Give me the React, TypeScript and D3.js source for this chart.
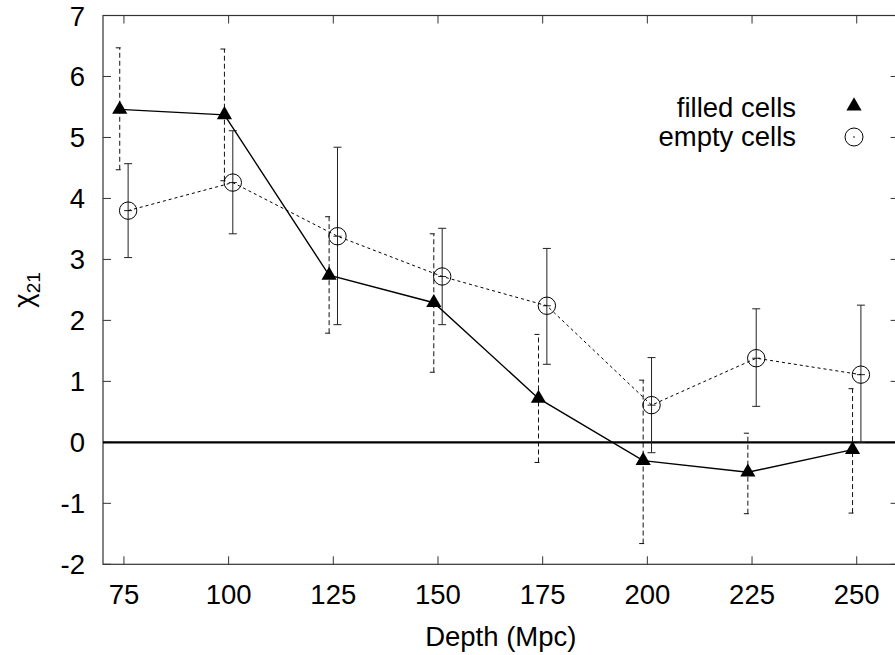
import React from "react";
import * as d3 from "d3";

const filledDepth = [74, 99, 124, 149, 174, 199, 224, 249];
const filledVal = [5.46, 5.37, 2.74, 2.29, 0.72, -0.3, -0.49, -0.12];
const filledLo = [4.47, 4.29, 1.79, 1.15, -0.33, -1.66, -1.17, -1.16];
const filledHi = [6.47, 6.45, 3.7, 3.42, 1.77, 1.02, 0.15, 0.88];

const emptyDepth = [76, 101, 126, 151, 176, 201, 226, 251];
const emptyVal = [3.8, 4.26, 3.38, 2.72, 2.24, 0.61, 1.38, 1.11];
const emptyLo = [3.03, 3.42, 1.93, 1.93, 1.28, -0.17, 0.59, 0.0];
const emptyHi = [4.57, 5.11, 4.84, 3.51, 3.18, 1.39, 2.19, 2.25];

const xTicks = [75, 100, 125, 150, 175, 200, 225, 250];
const yTicks = [-2, -1, 0, 1, 2, 3, 4, 5, 6, 7];
const legendLabels = ["filled cells", "empty cells"];

const W = 895;
const H = 655;
const FONT = "'Liberation Sans', Arial, Helvetica, sans-serif";
const FS = 27.5;

export default function App() {
  const x = d3.scaleLinear().domain([70, 260]).range([103, 898.6]);
  const y = d3.scaleLinear().domain([-2, 7]).range([564.3, 15.5]);
  const left = x(70), right = x(260), top = y(7), bottom = y(-2);

  const line = d3
    .line<[number, number]>()
    .x((d) => x(d[0]))
    .y((d) => y(d[1]));
  const filledPts: [number, number][] = filledDepth.map((d, i) => [d, filledVal[i]]);
  const emptyPts: [number, number][] = emptyDepth.map((d, i) => [d, emptyVal[i]]);
  const tri = d3.symbol().type(d3.symbolTriangle).size(100)();
  const cap = 4;

  return (
    <svg
      width={W}
      height={H}
      style={{ position: "absolute", left: 0, top: 0, background: "#fff" }}
      fontFamily={FONT}
    >
      <defs>
        <clipPath id="plotclip">
          <rect x={left} y={top} width={right - left} height={bottom - top} />
        </clipPath>
      </defs>
      {/* ticks */}
      {yTicks.map((t) => (
        <g key={"y" + t}>
          <line x1={left} x2={left + 8} y1={y(t)} y2={y(t)} stroke="#333" strokeWidth={1} />
          <line x1={right} x2={right - 8} y1={y(t)} y2={y(t)} stroke="#333" strokeWidth={1} />
          <text x={85} y={y(t) + 10} textAnchor="end" fontSize={FS} fill="#000">
            {t}
          </text>
        </g>
      ))}
      {xTicks.map((t) => (
        <g key={"x" + t}>
          <line x1={x(t)} x2={x(t)} y1={bottom} y2={bottom - 8} stroke="#333" strokeWidth={1} />
          <line x1={x(t)} x2={x(t)} y1={top} y2={top + 8} stroke="#333" strokeWidth={1} />
          <text x={x(t)} y={604} textAnchor="middle" fontSize={FS} fill="#000">
            {t}
          </text>
        </g>
      ))}
      {/* border */}
      <rect x={left} y={top} width={right - left} height={bottom - top} fill="none" stroke="#333" strokeWidth={1.2} />
      {/* zero line */}
      <line x1={left} x2={right} y1={y(0)} y2={y(0)} stroke="#000" strokeWidth={2.4} />

      <g clipPath="url(#plotclip)">
        {/* filled error bars */}
        {filledDepth.map((d, i) => (
          <g key={"fe" + i} stroke="#111" strokeWidth={1} strokeDasharray="5,3">
            <line x1={x(d)} x2={x(d)} y1={y(filledLo[i])} y2={y(filledHi[i])} />
            <line x1={x(d) - cap} x2={x(d) + cap} y1={y(filledLo[i])} y2={y(filledLo[i])} />
            <line x1={x(d) - cap} x2={x(d) + cap} y1={y(filledHi[i])} y2={y(filledHi[i])} />
          </g>
        ))}
        {/* empty error bars */}
        {emptyDepth.map((d, i) => (
          <g key={"ee" + i} stroke="#222" strokeWidth={1}>
            <line x1={x(d)} x2={x(d)} y1={y(emptyLo[i])} y2={y(emptyHi[i])} />
            <line x1={x(d) - cap} x2={x(d) + cap} y1={y(emptyLo[i])} y2={y(emptyLo[i])} />
            <line x1={x(d) - cap} x2={x(d) + cap} y1={y(emptyHi[i])} y2={y(emptyHi[i])} />
            <line x1={x(d) - cap} x2={x(d) + cap} y1={y(emptyVal[i])} y2={y(emptyVal[i])} />
          </g>
        ))}
        {/* lines */}
        <path d={line(emptyPts) || ""} fill="none" stroke="#000" strokeWidth={1} strokeDasharray="3,3" />
        <path d={line(filledPts) || ""} fill="none" stroke="#000" strokeWidth={1.4} />
        {/* markers */}
        {emptyPts.map((p, i) => (
          <g key={"ec" + i}>
            <circle cx={x(p[0])} cy={y(p[1])} r={8.7} fill="none" stroke="#000" strokeWidth={1} />
          </g>
        ))}
        {filledPts.map((p, i) => (
          <path key={"ft" + i} d={tri || ""} transform={`translate(${x(p[0])},${y(p[1])})`} fill="#000" />
        ))}
      </g>

      {/* legend */}
      <text x={796} y={117} textAnchor="end" fontSize={FS} fill="#000">
        {legendLabels[0]}
      </text>
      <path d={tri || ""} transform="translate(854,106)" fill="#000" />
      <text x={796} y={146} textAnchor="end" fontSize={FS} fill="#000">
        {legendLabels[1]}
      </text>
      <circle cx={854} cy={137} r={9} fill="none" stroke="#000" strokeWidth={1} />
      <circle cx={854} cy={137} r={0.8} fill="#000" />

      {/* axis labels */}
      <text x={(left + right) / 2} y={646} textAnchor="middle" fontSize={FS} fill="#000">
        Depth (Mpc)
      </text>
      <text transform={`translate(33,${(top + bottom) / 2}) rotate(-90)`} textAnchor="middle" fontSize={FS} fill="#000">
        χ<tspan fontSize={19} dy={7}>21</tspan>
      </text>
    </svg>
  );
}
